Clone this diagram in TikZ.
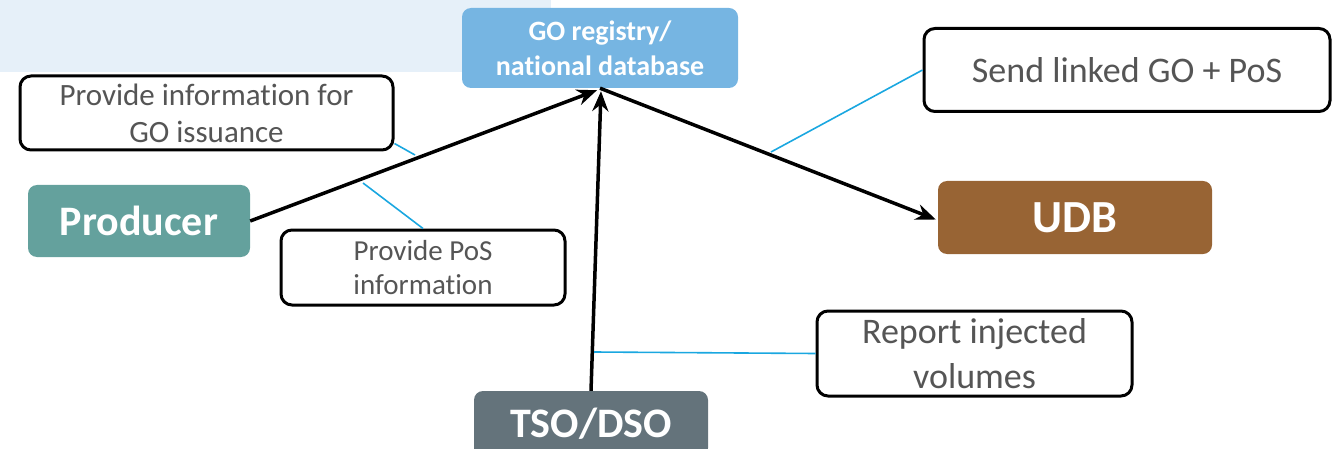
\documentclass[tikz,border=0pt]{standalone}
\usepackage{fontspec}
\setmainfont{Carlito}[Ligatures=NoCommon]
\usetikzlibrary{arrows.meta}
\definecolor{bandblue}{HTML}{E6F0F9}
\definecolor{regblue}{HTML}{76B5E2}
\definecolor{prodteal}{HTML}{64A19D}
\definecolor{udbbrown}{HTML}{986434}
\definecolor{gridgray}{HTML}{64737B}
\definecolor{notegray}{HTML}{555555}
\definecolor{linkblue}{HTML}{1AA7E0}
\tikzset{
  actor/.style={rounded corners=9pt, text=white, font=\bfseries, align=center, inner sep=0pt},
  note/.style={draw=black, line width=3pt, rounded corners=11pt, fill=white, text=notegray, align=center, inner sep=0pt},
  flow/.style={line width=3.5pt, -{Stealth[length=20pt,width=16pt]}},
  link/.style={draw=linkblue, line width=1.6pt}
}
\begin{document}
\begin{tikzpicture}[x=1pt,y=-1pt]
\useasboundingbox (0,0) rectangle (1332,449);
\clip (0,0) rectangle (1332,449);
% header band
\fill[bandblue] (0,0) rectangle (551,72);

% actors
\node[actor, fill=regblue, minimum width=276pt, minimum height=80pt,
      font=\bfseries\fontsize{28}{35}\selectfont] (go) at (600,48) {GO registry/\\national database};
\node[actor, fill=prodteal, minimum width=222pt, minimum height=72pt,
      font=\bfseries\fontsize{42}{48}\selectfont] (producer) at (139,221) {Producer};
\node[actor, fill=udbbrown, minimum width=274pt, minimum height=73pt,
      font=\bfseries\fontsize{46}{52}\selectfont] (udb) at (1075,217.5) {UDB};
\node[actor, fill=gridgray, minimum width=234pt, minimum height=66pt,
      font=\bfseries\fontsize{42}{48}\selectfont] (tso) at (591,424) {TSO/DSO};

% notes
\node[note, minimum width=373pt, minimum height=74pt,
      font=\fontsize{31}{37}\selectfont] (info) at (206.5,113) {Provide information for\\GO issuance};
\node[note, minimum width=284pt, minimum height=75pt,
      font=\fontsize{29}{34}\selectfont] (pos) at (423,267.5) {Provide PoS\\information};
\node[note, minimum width=406pt, minimum height=83pt,
      font=\fontsize{36}{42}\selectfont] (send) at (1127,70) {Send linked GO + PoS};
\node[note, minimum width=315pt, minimum height=85pt,
      font=\fontsize{36}{45}\selectfont] (report) at (974.5,353.5) {Report injected\\volumes};

% flows into and out of the registry
\coordinate (goin1) at ([xshift=-3pt,yshift=-2pt]go.south);
\coordinate (goin2) at ([xshift=1pt,yshift=-3pt]go.south);
\draw[flow] (producer.east) -- (goin1);
\draw[flow] (tso.north) -- (goin2);
\draw[flow] (go.south) -- ([xshift=-2pt,yshift=-2pt]udb.west);

% callout links
\coordinate (c1) at (415,155);
\coordinate (c2) at (363,183);
\coordinate (c3) at (771,152);
\coordinate (c4) at (594,352);
\draw[link] ([yshift=8pt]info.south east) -- (c1);
\draw[link] (c2) -- (pos.north);
\draw[link] (c3) -- (send.west);
\draw[link] (c4) -- (report.west);
\end{tikzpicture}
\end{document}
